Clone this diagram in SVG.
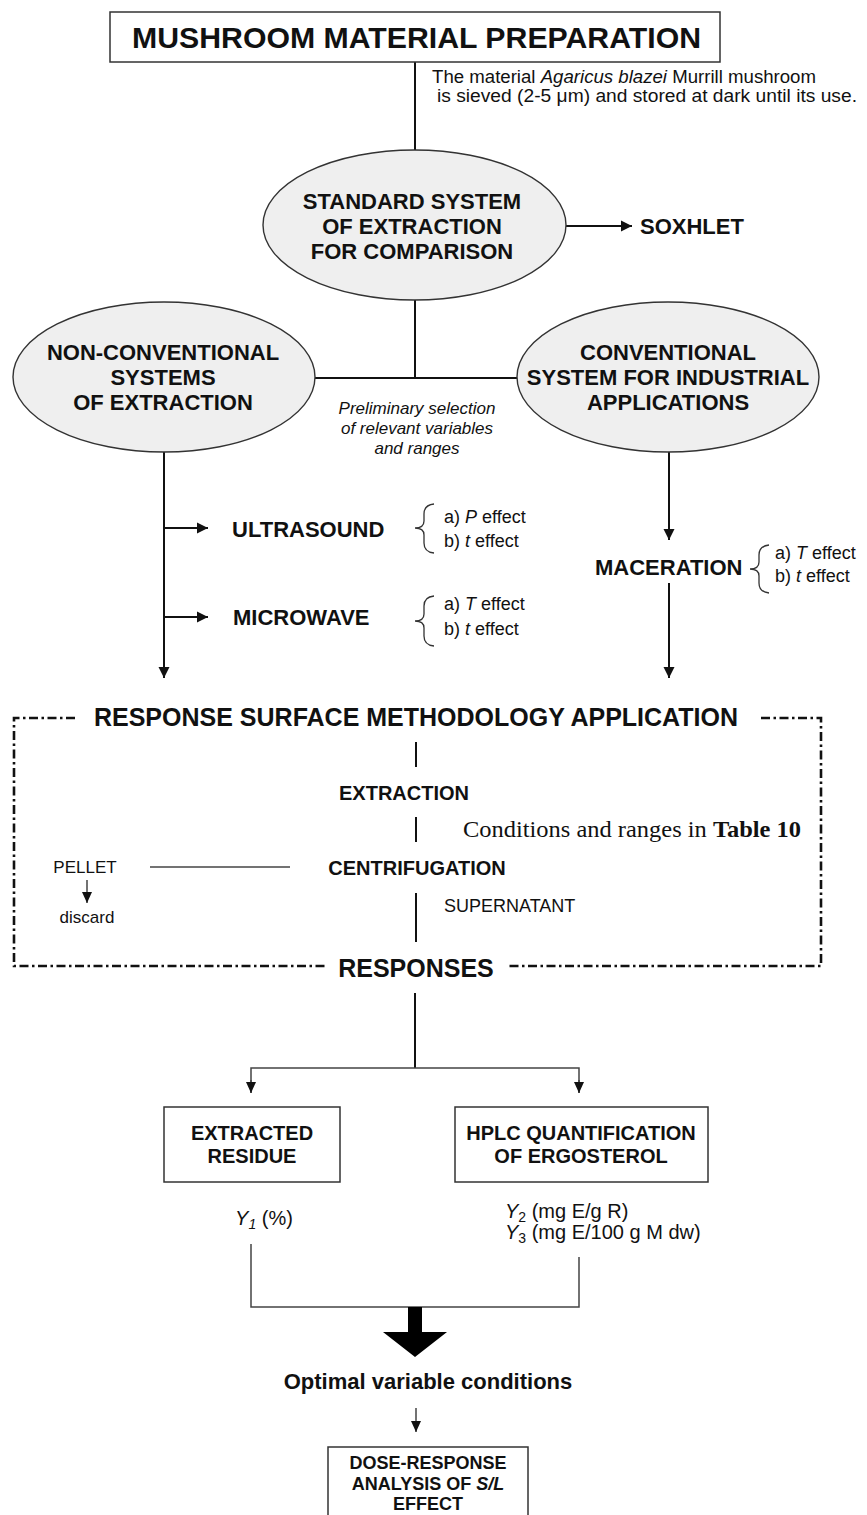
<svg xmlns="http://www.w3.org/2000/svg" width="867" height="1515" viewBox="0 0 867 1515">
<style>
text{font-family:"Liberation Sans",Arial,sans-serif;fill:#111}
.b{font-weight:bold}
.t22{font-size:22px;font-weight:bold}
.t20{font-size:20px;font-weight:bold}
.ell{fill:#efefef;stroke:#333;stroke-width:1.4}
.box{fill:#fff;stroke:#333;stroke-width:1.5}
.ln{stroke:#111;stroke-width:2;fill:none}
.thin{stroke:#444;stroke-width:1.5;fill:none}
.br{stroke:#333;stroke-width:1.3;fill:none}
.dash{stroke:#111;stroke-width:2.6;fill:none;stroke-dasharray:9 3.5 2.5 3.5}
.eff{font-size:18px}
</style>
<defs>
<marker id="ah" markerUnits="userSpaceOnUse" markerWidth="12" markerHeight="12" refX="11" refY="6" orient="auto">
<path d="M0,0.5 L11,6 L0,11.5 z" fill="#111"/>
</marker>
<marker id="ahs" markerUnits="userSpaceOnUse" markerWidth="12" markerHeight="12" refX="11" refY="5" orient="auto">
<path d="M0,0 L11,5 L0,10 z" fill="#111"/>
</marker>
</defs>

<g id="connectors">
<line class="ln" x1="415" y1="62" x2="415" y2="150"/>
<line class="ln" x1="566" y1="226" x2="632" y2="226" marker-end="url(#ah)"/>
<line class="ln" x1="415" y1="300" x2="415" y2="378"/>
<line class="ln" x1="315" y1="378" x2="518" y2="378"/>
<line class="ln" x1="164" y1="452" x2="164" y2="678" marker-end="url(#ah)"/>
<line class="ln" x1="164" y1="528" x2="208" y2="528" marker-end="url(#ah)"/>
<line class="ln" x1="164" y1="617" x2="208" y2="617" marker-end="url(#ah)"/>
<line class="ln" x1="669" y1="452" x2="669" y2="540" marker-end="url(#ah)"/>
<line class="ln" x1="669" y1="583" x2="669" y2="678" marker-end="url(#ah)"/>
<line class="ln" x1="416" y1="742" x2="416" y2="767"/>
<line class="ln" x1="416" y1="817" x2="416" y2="842"/>
<line class="ln" x1="416" y1="893" x2="416" y2="942"/>
<line class="thin" x1="150" y1="867" x2="290" y2="867"/>
<line class="thin" x1="87" y1="880" x2="87" y2="903" marker-end="url(#ahs)"/>
<line class="ln" x1="415" y1="993" x2="415" y2="1068"/>
<path class="thin" d="M251,1093 V1068 H579 V1093"/>
<line class="thin" x1="251" y1="1080" x2="251" y2="1093" marker-end="url(#ahs)"/>
<line class="thin" x1="579" y1="1080" x2="579" y2="1093" marker-end="url(#ahs)"/>
<path class="thin" d="M251,1244 V1307 H579 V1257"/>
<path d="M408,1307 H422 V1332 H447 L415,1357 L383,1332 H408 Z" fill="#000"/>
<line class="thin" x1="416" y1="1408" x2="416" y2="1432" marker-end="url(#ahs)"/>
</g>

<g id="title">
<rect class="box" x="110" y="12" width="610" height="50"/>
<text x="132" y="48" class="b" font-size="30" textLength="569" lengthAdjust="spacingAndGlyphs">MUSHROOM MATERIAL PREPARATION</text>
</g>

<g id="note">
<text x="432" y="83" font-size="17.5" textLength="384" lengthAdjust="spacingAndGlyphs">The material <tspan font-style="italic">Agaricus blazei</tspan> Murrill mushroom</text>
<text x="437" y="102" font-size="17.5" textLength="420" lengthAdjust="spacingAndGlyphs">is sieved (2-5 μm) and stored at dark until its use.</text>
</g>

<g id="standard">
<ellipse class="ell" cx="414.5" cy="225" rx="151.5" ry="75"/>
<text x="412" y="209" class="t22" text-anchor="middle">STANDARD SYSTEM</text>
<text x="412" y="234" class="t22" text-anchor="middle">OF EXTRACTION</text>
<text x="412" y="259" class="t22" text-anchor="middle">FOR COMPARISON</text>
</g>

<g id="soxhlet">
<text x="640" y="234" class="t22">SOXHLET</text>
</g>

<g id="nonconv">
<ellipse class="ell" cx="164" cy="377" rx="151" ry="75"/>
<text x="163" y="360" class="t22" text-anchor="middle">NON-CONVENTIONAL</text>
<text x="163" y="385" class="t22" text-anchor="middle">SYSTEMS</text>
<text x="163" y="410" class="t22" text-anchor="middle">OF EXTRACTION</text>
</g>

<g id="conv">
<ellipse class="ell" cx="668" cy="377" rx="151" ry="75"/>
<text x="668" y="360" class="t22" text-anchor="middle">CONVENTIONAL</text>
<text x="668" y="385" class="t22" text-anchor="middle">SYSTEM FOR INDUSTRIAL</text>
<text x="668" y="410" class="t22" text-anchor="middle">APPLICATIONS</text>
</g>

<g id="prelim" font-style="italic">
<text x="417" y="414" font-size="17" text-anchor="middle">Preliminary selection</text>
<text x="417" y="434" font-size="17" text-anchor="middle">of relevant variables</text>
<text x="417" y="454" font-size="17" text-anchor="middle">and ranges</text>
</g>

<g id="ultrasound">
<text x="232" y="537" class="t22">ULTRASOUND</text>
<path class="br" d="M434,504 Q424,505 424,514 L424,521 Q424,528 415,528 Q424,528 424,535 L424,543 Q424,552 434,553"/>
<text x="444" y="523" class="eff">a) <tspan font-style="italic">P</tspan> effect</text>
<text x="444" y="547" class="eff">b) <tspan font-style="italic">t</tspan> effect</text>
</g>

<g id="microwave">
<text x="233" y="625" class="t22">MICROWAVE</text>
<path class="br" d="M434,596 Q424,597 424,606 L424,614 Q424,621 415,621 Q424,621 424,628 L424,636 Q424,645 434,646"/>
<text x="444" y="610" class="eff">a) <tspan font-style="italic">T</tspan> effect</text>
<text x="444" y="635" class="eff">b) <tspan font-style="italic">t</tspan> effect</text>
</g>

<g id="maceration">
<text x="595" y="575" class="t22">MACERATION</text>
<path class="br" d="M769,545 Q759,546 759,555 L759,562 Q759,569 750,569 Q759,569 759,576 L759,583 Q759,592 769,593"/>
<text x="775" y="559" class="eff">a) <tspan font-style="italic">T</tspan> effect</text>
<text x="775" y="582" class="eff">b) <tspan font-style="italic">t</tspan> effect</text>
</g>

<g id="rsm">
<path class="dash" d="M75,718 H14 V966 H328"/>
<path class="dash" d="M761,718 H821 V966 H508"/>
<text x="416" y="726" font-size="25" class="b" text-anchor="middle">RESPONSE SURFACE METHODOLOGY APPLICATION</text>
<text x="416" y="977" font-size="25" class="b" text-anchor="middle">RESPONSES</text>
</g>

<g id="extraction">
<text x="404" y="800" class="t20" text-anchor="middle">EXTRACTION</text>
</g>
<g id="conditions">
<text x="463" y="837" font-size="22.5" style="font-family:'Liberation Serif','Times New Roman',serif" textLength="338" lengthAdjust="spacingAndGlyphs">Conditions and ranges in <tspan font-weight="bold">Table 10</tspan></text>
</g>
<g id="centrifugation">
<text x="417" y="875" class="t20" text-anchor="middle">CENTRIFUGATION</text>
</g>
<g id="pellet">
<text x="85" y="873" font-size="17" text-anchor="middle">PELLET</text>
<text x="87" y="923" font-size="17" text-anchor="middle">discard</text>
</g>
<g id="supernatant">
<text x="444" y="912" font-size="18">SUPERNATANT</text>
</g>

<g id="residue">
<rect class="box" x="164" y="1107" width="176" height="75"/>
<text x="252" y="1140" class="t20" text-anchor="middle">EXTRACTED</text>
<text x="252" y="1163" class="t20" text-anchor="middle">RESIDUE</text>
<text x="264" y="1225" font-size="20" text-anchor="middle"><tspan font-style="italic">Y<tspan font-size="14" dy="4">1</tspan></tspan><tspan dy="-4"> (%)</tspan></text>
</g>

<g id="hplc">
<rect class="box" x="455" y="1107" width="253" height="75"/>
<text x="581" y="1140" class="t20" text-anchor="middle">HPLC QUANTIFICATION</text>
<text x="581" y="1163" class="t20" text-anchor="middle">OF ERGOSTEROL</text>
<text x="505" y="1218" font-size="20"><tspan font-style="italic">Y</tspan><tspan font-size="14" dy="4">2</tspan><tspan dy="-4"> (mg E/g R)</tspan></text>
<text x="505" y="1239" font-size="20"><tspan font-style="italic">Y</tspan><tspan font-size="14" dy="4">3</tspan><tspan dy="-4"> (mg E/100 g M dw)</tspan></text>
</g>

<g id="optimal">
<text x="428" y="1389" font-size="22" class="b" text-anchor="middle">Optimal variable conditions</text>
</g>

<g id="dose">
<rect class="box" x="328" y="1447" width="200" height="80"/>
<text x="428" y="1469" font-size="18" class="b" text-anchor="middle">DOSE-RESPONSE</text>
<text x="428" y="1490" font-size="18" class="b" text-anchor="middle">ANALYSIS OF <tspan font-style="italic">S/L</tspan></text>
<text x="428" y="1510" font-size="18" class="b" text-anchor="middle">EFFECT</text>
</g>
</svg>
